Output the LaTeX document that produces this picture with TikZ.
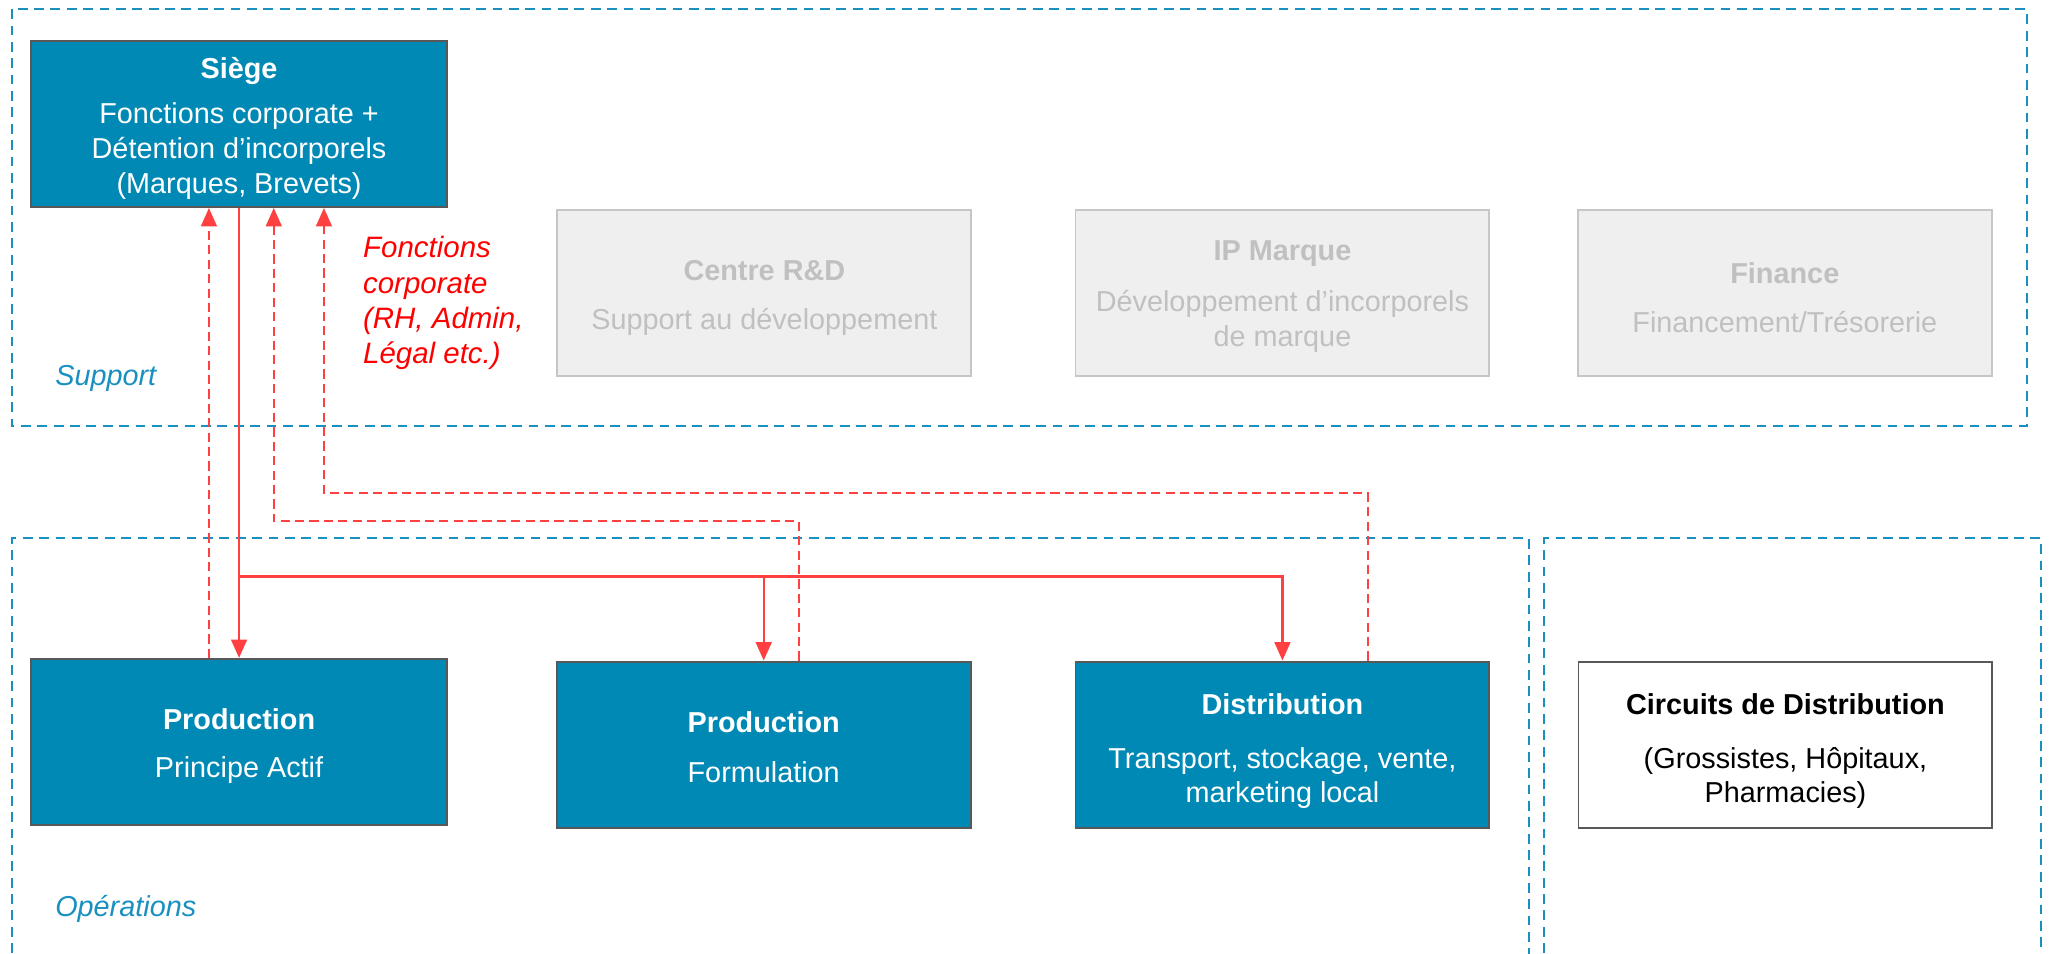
\documentclass[tikz,border=0pt]{standalone}
\usepackage{fontspec}
\setmainfont{Liberation Sans}
\usetikzlibrary{arrows.meta}
\definecolor{boxblue}{HTML}{0089B5}
\definecolor{boxborder}{HTML}{585858}
\definecolor{greyfill}{HTML}{EFEFEF}
\definecolor{greyborder}{HTML}{C6C6C6}
\definecolor{greytext}{HTML}{C0C0C0}
\definecolor{zoneblue}{HTML}{1A90C0}
\definecolor{linkred}{HTML}{FF4040}
\definecolor{labelred}{HTML}{FF0000}
\newcommand\tstrut[1]{\rule{0pt}{#1}}
\begin{document}
\begin{tikzpicture}[x=1pt,y=-1pt,
  font=\fontsize{22}{26.5}\selectfont,
  mainbox/.style={draw=boxborder, line width=1.5pt, fill=boxblue, text=white,
    minimum width=317pt, minimum height=127pt, align=center, inner sep=0pt},
  greybox/.style={draw=greyborder, line width=1.5pt, fill=greyfill, text=greytext,
    minimum width=316pt, minimum height=127pt, align=center, inner sep=0pt},
  whitebox/.style={draw=boxborder, line width=1.5pt, fill=white, text=black,
    minimum width=316pt, minimum height=127pt, align=center, inner sep=0pt},
  zone/.style={draw=zoneblue, line width=1.5pt, dash pattern=on 7.5pt off 5pt},
  zonelabel/.style={text=zoneblue, font=\fontsize{22}{26.5}\selectfont\itshape, anchor=west, inner sep=0pt},
  redlabel/.style={text=labelred, font=\fontsize{22.5}{27}\selectfont\itshape, anchor=west, align=left, inner sep=0pt},
  flow/.style={draw=linkred, line width=1.8pt},
  backflow/.style={draw=linkred, line width=1.6pt, dash pattern=on 7pt off 4pt},
  tip/.style={-{Triangle[length=14pt,width=12pt]}, color=linkred}
]
\useasboundingbox (0,0) rectangle (1568,728);

% zones
\draw[zone] (9,7) rectangle (1547,325);
\draw[zone] (9,740) -- (9,411) -- (1167,411) -- (1167,740);
\draw[zone] (1179,740) -- (1179,411) -- (1558,411) -- (1558,740);

\node[zonelabel] (sup) at (42,289) {Support};
\node[zonelabel] (ops) at (42,694) {Opérations};

% support row
\node[mainbox] (siege) at (182.5,94.5)
  {\tstrut{23pt}\textbf{Siège}\\[8pt]Fonctions corporate +\\Détention d’incorporels\\(Marques, Brevets)};
\node[greybox] (rd) at (583.5,223.5)
  {\tstrut{23pt}\textbf{Centre R\&D}\\[11pt]Support au développement};
\node[greybox] (ip) at (979,223.5)
  {\tstrut{21pt}\textbf{IP Marque}\\[12.5pt]Développement d’incorporels\\de marque};
\node[greybox] (fin) at (1362.5,223.5)
  {\tstrut{23pt}\textbf{Finance}\\[11pt]Financement/Trésorerie};

\node[redlabel] (fc) at (277,231.5)
  {Fonctions\\corporate\\(RH, Admin,\\Légal etc.)};

% operations row
\node[mainbox] (pa) at (182.5,566.5)
  {\tstrut{22pt}\textbf{Production}\\[9.5pt]Principe Actif};
\node[mainbox, minimum width=316pt] (form) at (583,568.5)
  {\tstrut{20pt}\textbf{Production}\\[11.5pt]Formulation};
\node[mainbox, minimum width=316pt] (dist) at (979,568.5)
  {\tstrut{26pt}\textbf{Distribution}\\[14.5pt]Transport, stockage, vente,\\marketing local};
\node[whitebox] (circ) at (1363,568.5)
  {\tstrut{26pt}\textbf{Circuits de Distribution}\\[14.5pt](Grossistes, Hôpitaux,\\Pharmacies)};

\coordinate (bus) at (0,440);
\coordinate (railA) at (0,398);
\coordinate (railB) at (0,376.4);

% solid flows
\draw[flow, tip] (siege.south) -- (pa.north);
\draw[flow, tip] (siege.south |- bus) -| (dist.north);
\draw[flow, tip] (form.north |- bus) -- (form.north);

% dashed return flows
\draw[backflow, tip] ([xshift=-23pt]pa.north) -- ([xshift=-23pt]siege.south);
\draw[backflow, tip] ([xshift=27pt]form.north) |- ([xshift=26.5pt]siege.south |- railA) -- ([xshift=26.5pt]siege.south);
\draw[backflow, tip] ([xshift=65pt]dist.north) |- ([xshift=64.8pt]siege.south |- railB) -- ([xshift=64.8pt]siege.south);
\end{tikzpicture}
\end{document}
